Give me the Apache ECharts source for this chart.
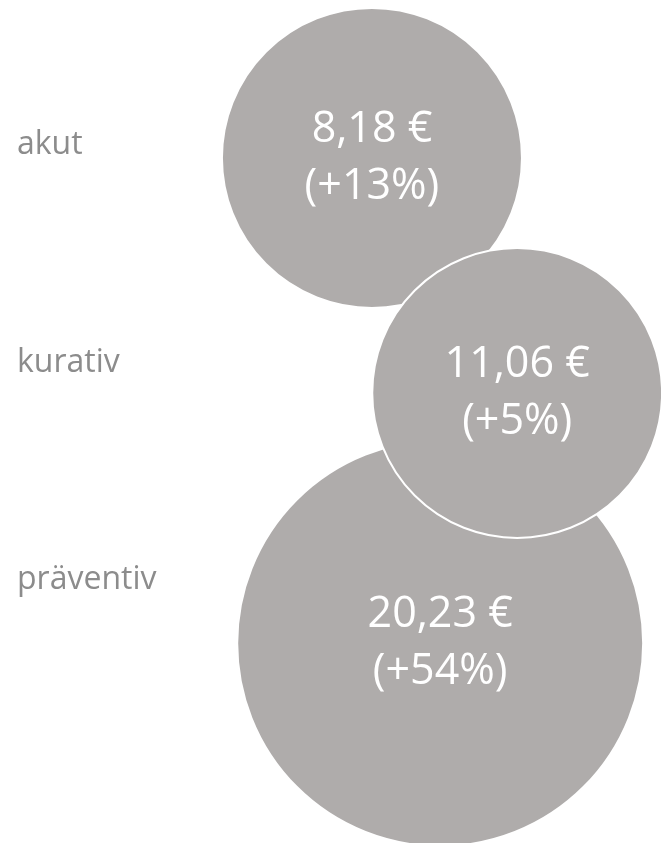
<!DOCTYPE html>
<html>
<head>
<meta charset="utf-8">
<script src="https://cdn.jsdelivr.net/npm/echarts@6/dist/echarts.min.js"></script>
<style>
  html, body { margin: 0; padding: 0; background: #fff; }
  #chart { width: 661px; height: 843px; }
</style>
</head>
<body>
<div id="chart"></div>
<script>
// categories shown on the left, top to bottom
const categories = ["akut", "kurativ", "präventiv"];
// cost per case and change vs. previous period
const costs = ["8,18 €", "11,06 €", "20,23 €"];
const changes = ["+13%", "+5%", "+54%"];
// bubble placement (x on 0..10, y on 0..3 band scale) and bubble size (area units)
const bubbleX = [3.73, 6.88, 5.21];
const bubbleY = [0.56, 1.64, 2.79];
const bubbleArea = [225, 210, 412];
// kurativ sits on top of the other two
const layer = [1, 3, 2];

const chart = echarts.init(document.getElementById("chart"));
const font = "'Open Sans', sans-serif";

chart.setOption({
  backgroundColor: "#fff",
  animation: false,
  grid: { left: 200, right: 0, top: 36, bottom: 154 },
  xAxis: { type: "value", min: 0, max: 10, show: false },
  yAxis: [
    {
      type: "category",
      data: categories,
      inverse: true,
      axisLine: { show: false },
      axisTick: { show: false },
      splitLine: { show: false },
      axisLabel: {
        align: "left",
        margin: 183,
        color: "#8c8c8c",
        fontFamily: font,
        fontSize: 32
      }
    },
    { type: "value", min: 0, max: 3, inverse: true, show: false }
  ],
  series: categories.map((name, i) => ({
    name,
    type: "scatter",
    yAxisIndex: 1,
    clip: false,
    z: layer[i],
    symbolSize: (d) => Math.sqrt(d[2]) * 20,
    itemStyle: { color: "#afacab", opacity: 1, borderColor: "#ffffff", borderWidth: 2 },
    label: {
      show: true,
      position: "inside",
      color: "#ffffff",
      fontFamily: font,
      fontSize: 43,
      lineHeight: 57,
      formatter: () => `${costs[i]}\n(${changes[i]})`
    },
    data: [[bubbleX[i], bubbleY[i], bubbleArea[i]]]
  }))
});
</script>
</body>
</html>
